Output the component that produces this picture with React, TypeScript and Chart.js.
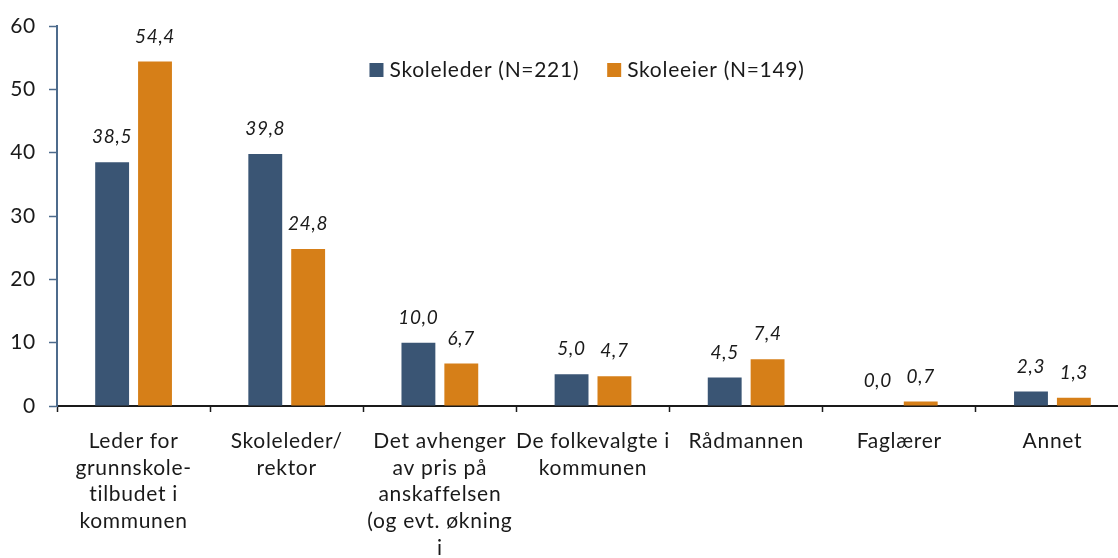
import React, { useEffect, useRef } from "react";
import { Chart, registerables } from "chart.js";

Chart.register(...registerables);

const categories: string[][] = [
  ["Leder for", "grunnskole-", "tilbudet i", "kommunen"],
  ["Skoleleder/", "rektor"],
  ["Det avhenger", "av pris på", "anskaffelsen", "(og evt. økning", "i"],
  ["De folkevalgte i", "kommunen"],
  ["Rådmannen"],
  ["Faglærer"],
  ["Annet"],
];
const skolelederValues = [38.5, 39.8, 10.0, 5.0, 4.5, 0.0, 2.3];
const skoleeierValues = [54.4, 24.8, 6.7, 4.7, 7.4, 0.7, 1.3];
const seriesNames = ["Skoleleder (N=221)", "Skoleeier (N=149)"];
const seriesColors = ["#3a5574", "#d67f18"];
const yTicks = [0, 10, 20, 30, 40, 50, 60];

const FONT = "Lato";
const TEXT = "#1a1a1a";
const YAXIS = "#4d6b8c";

const spacing = {
  id: "spacing",
  beforeDraw(chart: any) {
    (chart.ctx as any).letterSpacing = "0.7px";
  },
};

const valueLabels = {
  id: "valueLabels",
  afterDatasetsDraw(chart: any) {
    const ctx = chart.ctx;
    ctx.save();
    ctx.font = `italic 19px ${FONT}`;
    ctx.fillStyle = TEXT;
    ctx.textAlign = "center";
    ctx.textBaseline = "middle";
    chart.data.datasets.forEach((ds: any, i: number) => {
      const meta = chart.getDatasetMeta(i);
      meta.data.forEach((bar: any, j: number) => {
        const v = ds.data[j] as number;
        ctx.fillText(v.toFixed(1).replace(".", ","), bar.x, bar.y - 25);
      });
    });
    ctx.restore();
  },
};

const innerLegend = {
  id: "innerLegend",
  afterDraw(chart: any) {
    const ctx = chart.ctx;
    const area = chart.chartArea;
    const box = 14;
    const boxGap = 6;
    const itemGap = 28;
    ctx.save();
    ctx.font = `21px ${FONT}`;
    ctx.textBaseline = "middle";
    ctx.textAlign = "left";
    const items = chart.data.datasets.map((ds: any) => ({
      text: ds.label as string,
      color: ds.backgroundColor as string,
      w: box + boxGap + ctx.measureText(ds.label).width,
    }));
    const total =
      items.reduce((s: number, it: any) => s + it.w, 0) + itemGap * (items.length - 1);
    let x = (area.left + area.right) / 2 - total / 2 - 6;
    const y = area.top + 44;
    items.forEach((it: any) => {
      ctx.fillStyle = it.color;
      ctx.fillRect(x, y - box / 2, box, box);
      ctx.fillStyle = TEXT;
      ctx.fillText(it.text, x + box + boxGap, y);
      x += it.w + itemGap;
    });
    ctx.restore();
  },
};

export default function App() {
  const ref = useRef<HTMLCanvasElement | null>(null);
  useEffect(() => {
    if (!ref.current) return;
    const chart = new Chart(ref.current, {
      type: "bar",
      data: {
        labels: categories,
        datasets: [
          {
            label: seriesNames[0],
            data: skolelederValues,
            backgroundColor: seriesColors[0],
            categoryPercentage: 0.56,
            barPercentage: 0.79,
          },
          {
            label: seriesNames[1],
            data: skoleeierValues,
            backgroundColor: seriesColors[1],
            categoryPercentage: 0.56,
            barPercentage: 0.79,
          },
        ],
      },
      options: {
        animation: false,
        responsive: false,
        maintainAspectRatio: false,
        layout: { padding: { top: 26, left: 0, right: 0, bottom: 0 } },
        plugins: {
          legend: { display: false },
          tooltip: { enabled: false },
        },
        scales: {
          x: {
            grid: {
              display: true,
              drawOnChartArea: false,
              drawTicks: true,
              tickLength: 6,
              tickColor: TEXT,
              tickWidth: 1.5,
              offset: true,
            },
            border: { display: true, color: TEXT, width: 2 },
            ticks: {
              font: { family: FONT, size: 21, lineHeight: 1.27 },
              color: TEXT,
              padding: 16,
              maxRotation: 0,
              autoSkip: false,
            },
            afterFit: (s: any) => {
              s.height = 160;
            },
          },
          y: {
            min: 0,
            max: 60,
            afterBuildTicks: (s: any) => {
              s.ticks = yTicks.map((v) => ({ value: v }));
            },
            grid: {
              drawOnChartArea: false,
              drawTicks: true,
              tickLength: 8,
              tickColor: YAXIS,
              tickWidth: 1.5,
            },
            border: { display: true, color: YAXIS, width: 2 },
            ticks: {
              font: { family: FONT, size: 21 },
              color: TEXT,
              padding: 13,
            },
            afterFit: (s: any) => {
              s.width = 57;
            },
          },
        },
      },
      plugins: [spacing, valueLabels, innerLegend],
    });
    return () => chart.destroy();
  }, []);

  return (
    <div
      style={{
        position: "fixed",
        left: 0,
        top: 0,
        width: 1118,
        height: 558,
        overflow: "hidden",
        background: "#fff",
      }}
    >
      <canvas ref={ref} width={1129} height={566} style={{ display: "block" }} />
    </div>
  );
}
